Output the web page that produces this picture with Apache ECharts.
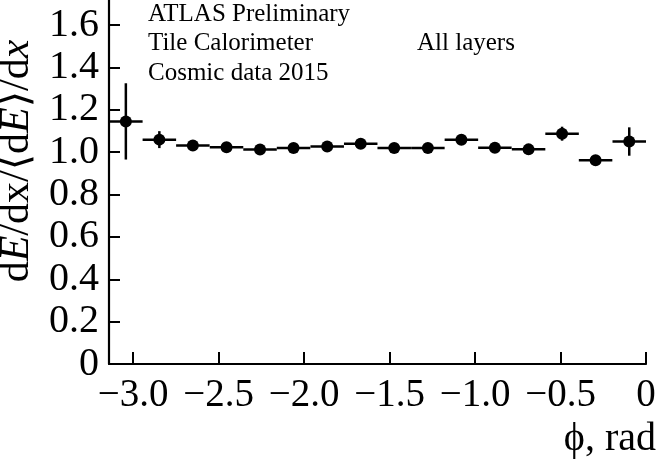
<!DOCTYPE html>
<html lang="en">

<head>
    <meta charset="UTF-8">
    <title>dE/dx vs phi</title>
    <script src="https://cdn.jsdelivr.net/npm/echarts@6/dist/echarts.min.js"></script>
    <style>
        * {
            margin: 0;
            padding: 0;
        }

        #main {
            width: 658px;
            height: 465px;
            background: #fff;
        }
    </style>
</head>

<body>
    <div id="main"></div>
    <script>
        // bin centres in phi (16 bins over [-pi, 0])
        let phi = [-3.043, -2.847, -2.651, -2.454, -2.258, -2.062, -1.865, -1.669,
            -1.473, -1.276, -1.080, -0.884, -0.687, -0.491, -0.295, -0.098];
        let binHalf = 0.098;
        // normalised dE/dx and its error
        let ratio = [1.145, 1.059, 1.031, 1.023, 1.012, 1.020, 1.026, 1.039,
            1.020, 1.020, 1.058, 1.021, 1.013, 1.087, 0.962, 1.050];
        let err = [0.180, 0.040, 0.006, 0.006, 0.006, 0.006, 0.006, 0.006,
            0.006, 0.006, 0.008, 0.006, 0.006, 0.033, 0.010, 0.067];
        let xTicks = [-3.0, -2.5, -2.0, -1.5, -1.0, -0.5, 0];
        let yTicks = [0, 0.2, 0.4, 0.6, 0.8, 1.0, 1.2, 1.4, 1.6];

        let font = '"Liberation Serif", "DejaVu Serif", serif';

        let myChart = echarts.init(document.getElementById('main'), null, { renderer: 'canvas' });

        let points = phi.map((x, i) => [x, ratio[i], err[i]]);

        function fmtX(v) {
            if (v === 0) return '0';
            return (v < 0 ? '\u2212' : '') + Math.abs(v).toFixed(1);
        }
        function fmtY(v) {
            if (v === 0) return '0';
            return v.toFixed(1);
        }

        let option = {
            animation: false,
            backgroundColor: '#fff',
            grid: {
                left: 109,
                right: 12,
                top: 0,
                bottom: 101,
                containLabel: false,
                outerBoundsMode: 'none'
            },
            xAxis: {
                type: 'value',
                min: -3.1416,
                max: 0,
                name: '\u03d5, rad',
                nameLocation: 'end',
                nameGap: 10,
                nameTextStyle: {
                    fontFamily: font,
                    fontSize: 40,
                    color: '#000',
                    align: 'right',
                    verticalAlign: 'top',
                    padding: [55, 0, 0, 0]
                },
                axisLine: { onZero: false, lineStyle: { color: '#000', width: 2.2 } },
                axisTick: {
                    inside: true,
                    length: 12,
                    customValues: xTicks,
                    lineStyle: { color: '#000', width: 2 }
                },
                axisLabel: {
                    customValues: xTicks,
                    formatter: fmtX,
                    margin: 12,
                    fontFamily: font,
                    fontSize: 39,
                    color: '#000'
                },
                splitLine: { show: false }
            },
            yAxis: {
                type: 'value',
                min: 0,
                max: 1.718,
                name: '{u|d}{i|E}{u|/dx/\u27e8d}{i|E}{u|\u27e9/d}{i|x}',
                nameLocation: 'middle',
                nameRotate: 90,
                nameGap: 66,
                nameTextStyle: {
                    padding: [0, 0, 0, 42],
                    rich: {
                        u: { fontFamily: font, fontSize: 42, color: '#000' },
                        i: { fontFamily: font, fontSize: 42, color: '#000', fontStyle: 'italic' }
                    }
                },
                axisLine: { onZero: false, lineStyle: { color: '#000', width: 2.2 } },
                axisTick: {
                    inside: true,
                    length: 11,
                    customValues: yTicks,
                    lineStyle: { color: '#000', width: 2 }
                },
                axisLabel: {
                    customValues: yTicks,
                    formatter: fmtY,
                    margin: 10,
                    fontFamily: font,
                    fontSize: 40,
                    color: '#000'
                },
                splitLine: { show: false }
            },
            graphic: [
                {
                    type: 'text', left: 148, top: 2,
                    style: { text: 'ATLAS Preliminary', font: '25px ' + font, fill: '#000' }
                },
                {
                    type: 'text', left: 148, top: 31,
                    style: { text: 'Tile Calorimeter', font: '25px ' + font, fill: '#000' }
                },
                {
                    type: 'text', left: 417, top: 31,
                    style: { text: 'All layers', font: '25px ' + font, fill: '#000' }
                },
                {
                    type: 'text', left: 148, top: 61,
                    style: { text: 'Cosmic data 2015', font: '25px ' + font, fill: '#000' }
                }
            ],
            series: [
                {
                    // error bars: horizontal = bin width, vertical = stat error
                    type: 'custom',
                    clip: false,
                    data: points,
                    renderItem: function (params, api) {
                        let x = api.value(0), y = api.value(1), e = api.value(2);
                        let l = api.coord([x - binHalf, y]);
                        let r = api.coord([x + binHalf, y]);
                        let t = api.coord([x, y + e]);
                        let b = api.coord([x, y - e]);
                        let st = { stroke: '#000', lineWidth: 2.5 };
                        return {
                            type: 'group',
                            children: [
                                { type: 'line', shape: { x1: l[0], y1: l[1], x2: r[0], y2: r[1] }, style: st },
                                { type: 'line', shape: { x1: t[0], y1: t[1], x2: b[0], y2: b[1] }, style: st }
                            ]
                        };
                    },
                    z: 2
                },
                {
                    type: 'scatter',
                    data: points,
                    symbol: 'circle',
                    symbolSize: 12,
                    itemStyle: { color: '#000', opacity: 1 },
                    z: 3
                }
            ]
        };

        myChart.setOption(option);
    </script>
</body>

</html>
